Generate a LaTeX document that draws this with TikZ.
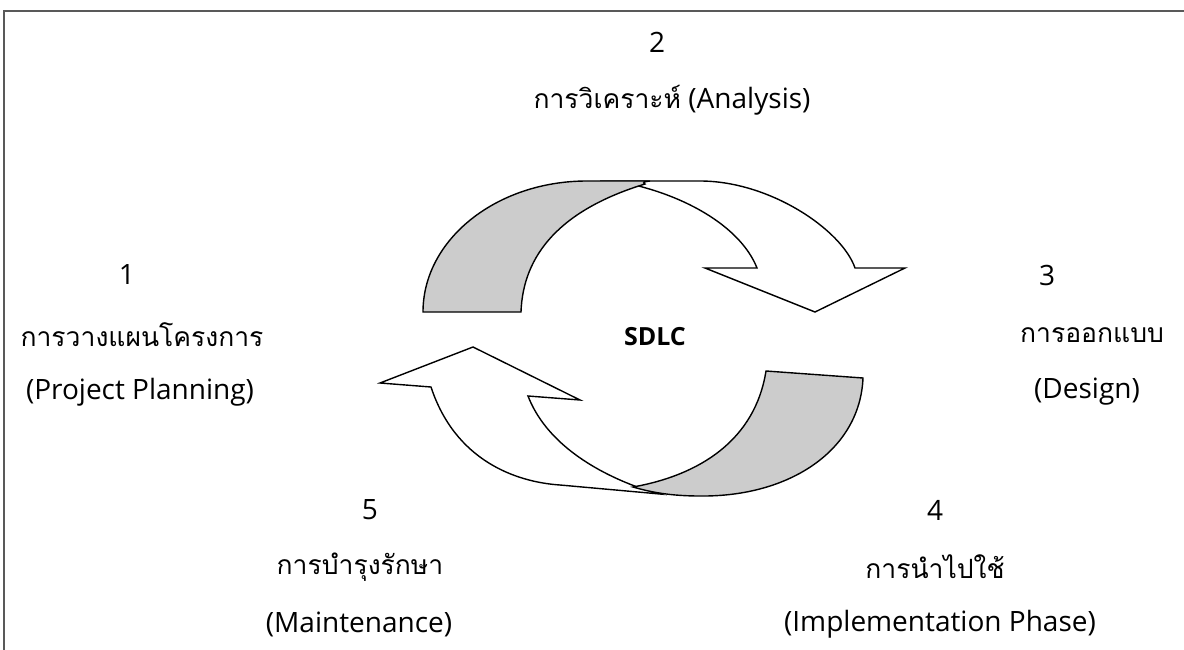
\documentclass[tikz,border=0pt]{standalone}
\usepackage{fontspec}
\setmainfont{Open Sans}
\newfontfamily\thaifont[Script=Thai]{Loma}
\begin{document}
\begin{tikzpicture}[x=1pt,y=-1pt,
  lbl/.style={inner sep=0pt, font=\fontsize{28}{32}\selectfont},
  thlbl/.style={inner sep=0pt, font=\fontsize{26.5}{30}\selectfont\thaifont},
  band/.style={draw=black, line width=1.4pt, line join=miter},
  backface/.style={band, fill=black!20},
  frontface/.style={band, fill=white}]
\useasboundingbox (0,0) rectangle (1184,650);
% frame
\draw[black!65, line width=1.6pt] (4,650) -- (4,11) -- (1184,11);

% top arrow: front (white) band with head
\draw[frontface] (600,181) -- (700,181)
  .. controls (770,181) and (842,230) .. (855,268)
  -- (905,268) -- (815,312) -- (705,268) -- (757,268)
  .. controls (740,225) and (680,192) .. (615,181) -- cycle;
% top arrow: back (grey) band
\draw[backface] (423,312)
  .. controls (423,239.6) and (496.4,181) .. (587,181) -- (650,181)
  .. controls (640,182) and (645,184) .. (645,184)
  .. controls (560,210) and (523,255) .. (521,312) -- cycle;

% bottom arrow: front (white) band with head
\draw[frontface] (431,387)
  .. controls (455,460) and (515,482) .. (560,485) -- (660,494)
  -- (640,488)
  .. controls (590,470) and (545,440) .. (528,396)
  -- (580,400) -- (473,347) -- (380,383) -- cycle;
% bottom arrow: back (grey) band
\draw[backface] (766,371) -- (863,378)
  .. controls (860,450) and (790,497) .. (700,496)
  .. controls (670,496) and (650,492) .. (633,487)
  .. controls (700,475) and (755,440) .. (766,371) -- cycle;

\node[lbl, font=\fontsize{25}{30}\selectfont\bfseries] (sdlc) at (655,337) {SDLC};

\node[lbl] (n2) at (657,42) {2};
\node[lbl] (t2) at (672,100) {{\fontsize{26.5}{30}\selectfont\thaifont การวิเคราะห์} (Analysis)};

\node[lbl] (n1) at (127,275) {1};
\node[thlbl] (t1) at (142,335) {การวางแผนโครงการ};
\node[lbl] (e1) at (140,392) {(Project Planning)};

\node[lbl] (n3) at (1047,275) {3};
\node[thlbl] (t3) at (1092,335) {การออกแบบ};
\node[lbl] (e3) at (1087,392) {(Design)};

\node[lbl] (n5) at (370,510) {5};
\node[thlbl] (t5) at (360,567) {การบำรุงรักษา};
\node[lbl] (e5) at (359,624) {(Maintenance)};

\node[lbl] (n4) at (935,510) {4};
\node[thlbl] (t4) at (935,567) {การนำไปใช้};
\node[lbl] (e4) at (940,624) {(Implementation Phase)};
\end{tikzpicture}
\end{document}
